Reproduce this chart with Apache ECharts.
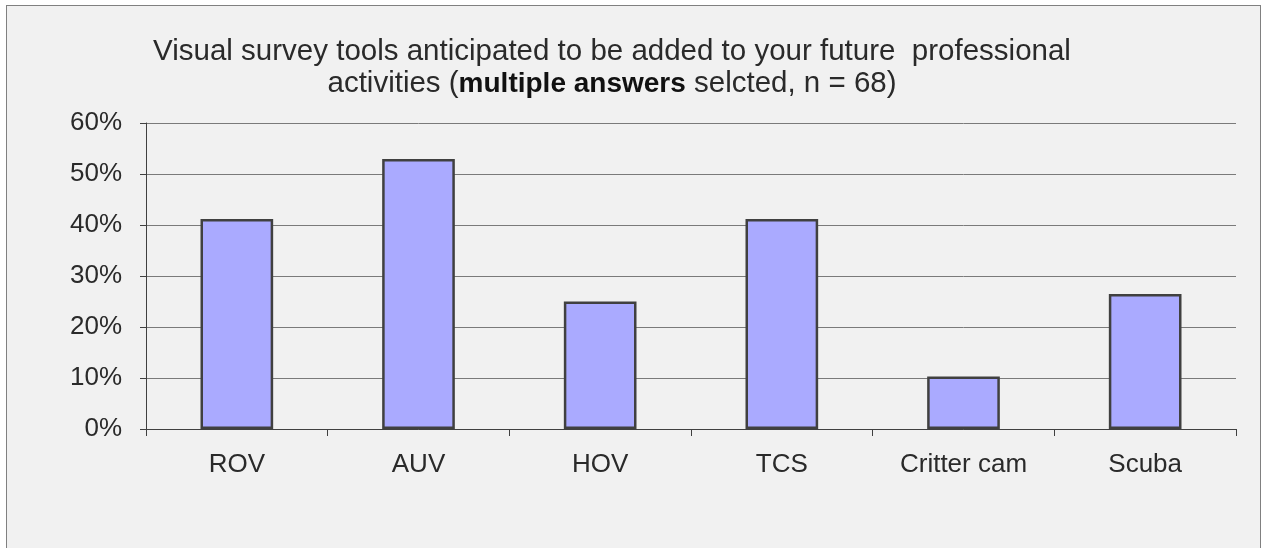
<!DOCTYPE html>
<html>
<head>
<meta charset="utf-8">
<script src="https://cdn.jsdelivr.net/npm/echarts@6/dist/echarts.min.js"></script>
<style>
html, body { margin: 0; padding: 0; background: #ffffff; }
#frame { position: absolute; left: 6px; top: 5px; width: 1253px; height: 560px; border: 1px solid #808080; background: #f1f1f1; }
#main { position: absolute; left: 0; top: 0; width: 1265px; height: 548px; }
</style>
</head>
<body>
<div id="frame"></div>
<div id="main"></div>
<script>
// categories and shares of respondents (n = 68)
var categories = ['ROV', 'AUV', 'HOV', 'TCS', 'Critter cam', 'Scuba'];
var shares = [41.18, 52.94, 25.0, 41.18, 10.29, 26.47];
var yTicks = [0, 10, 20, 30, 40, 50, 60];

var dom = document.getElementById('main');
var myChart = echarts.init(dom);

var option = {
    backgroundColor: 'transparent',
    textStyle: { fontFamily: '"Liberation Sans", Arial, sans-serif' },
    title: {
        text: 'Visual survey tools anticipated to be added to your future  professional\n{n|activities (}{b|multiple answers}{n| selcted, n = 68)}',
        left: 607,
        top: 31,
        textAlign: 'center',
        textStyle: {
            fontSize: 29.5,
            fontWeight: 'normal',
            color: '#2a2a2a',
            lineHeight: 32,
            rich: {
                n: { fontSize: 29.5, color: '#2a2a2a', lineHeight: 32 },
                b: { fontSize: 28, color: '#111', fontWeight: 'bold', lineHeight: 32 }
            }
        }
    },
    grid: {
        left: 146,
        right: 29,
        top: 123,
        bottom: 119
    },
    xAxis: {
        type: 'category',
        data: categories,
        axisLine: { lineStyle: { color: '#404040', width: 1 } },
        axisTick: { show: true, length: 7, lineStyle: { color: '#404040' } },
        axisLabel: { fontSize: 26, color: '#2a2a2a', margin: 23 }
    },
    yAxis: {
        type: 'value',
        min: yTicks[0],
        max: yTicks[yTicks.length - 1],
        interval: 10,
        axisLine: { show: true, lineStyle: { color: '#404040', width: 1 } },
        axisTick: { show: true, length: 6, lineStyle: { color: '#404040' } },
        axisLabel: { fontSize: 26, color: '#2a2a2a', margin: 24, formatter: '{value}%' },
        splitLine: { lineStyle: { color: '#7a7a7a', width: 1 } }
    },
    series: [
        {
            type: 'bar',
            data: shares,
            barWidth: '40%',
            itemStyle: {
                color: '#aaaaff',
                borderColor: '#404040',
                borderWidth: 2.5
            }
        }
    ]
};

if (option && typeof option === 'object') {
    myChart.setOption(option, true);
}
</script>
</body>
</html>
